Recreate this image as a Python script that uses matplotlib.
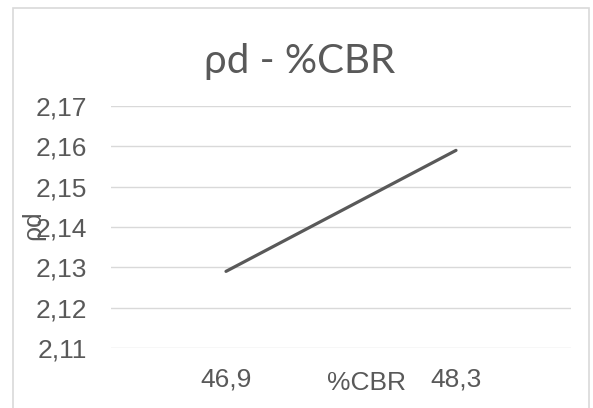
import matplotlib
matplotlib.use("Agg")
import matplotlib.pyplot as plt
from matplotlib.patches import Rectangle

# values
cbr_labels = ["46,9", "48,3"]
rho_d = [2.129, 2.159]
y_ticks = [2.11, 2.12, 2.13, 2.14, 2.15, 2.16, 2.17]

text_grey = "#595959"
grid_grey = "#d9d9d9"

fig = plt.figure(figsize=(5.93, 4.08), dpi=100)
fig.patch.set_facecolor("white")

# chart frame
fig.patches.append(Rectangle((13 / 593, -0.05), 576 / 593, 1.05 - 8 / 408,
                             transform=fig.transFigure, fill=False,
                             edgecolor=grid_grey, linewidth=1.2))

ax = fig.add_axes([111 / 593, 1 - 348 / 408, 460 / 593, 242 / 408])
x = list(range(len(cbr_labels)))
ax.plot(x, rho_d, color=text_grey, linewidth=2.3, solid_capstyle="round")

ax.set_xlim(-0.5, len(cbr_labels) - 0.5)
ax.set_ylim(y_ticks[0], y_ticks[-1])
ax.set_yticks(y_ticks)
ax.set_yticklabels([f"{v:.2f}".replace(".", ",") for v in y_ticks])
ax.set_xticks(x)
ax.set_xticklabels(cbr_labels)
ax.grid(axis="y", color=grid_grey, linewidth=1)
ax.set_axisbelow(True)
for s in ax.spines.values():
    s.set_visible(False)
ax.tick_params(axis="both", length=0, labelsize=19, labelcolor=text_grey,
               labelfontfamily="Liberation Sans")
ax.tick_params(axis="y", pad=17)
ax.tick_params(axis="x", pad=14)

fig.text(300 / 593, 1 - 62 / 408, "ρd - %CBR", ha="center", va="center",
         fontsize=29, color=text_grey, family="Lato")
fig.text(33 / 593, 1 - 225 / 408, "ρd", ha="center", va="center", rotation=90,
         fontsize=19, color=text_grey, family="Liberation Sans")
fig.text(367 / 593, 1 - 383 / 408, "%CBR", ha="center", va="center",
         fontsize=19, color=text_grey, family="Liberation Sans")

fig.savefig("out.png", dpi=100)
